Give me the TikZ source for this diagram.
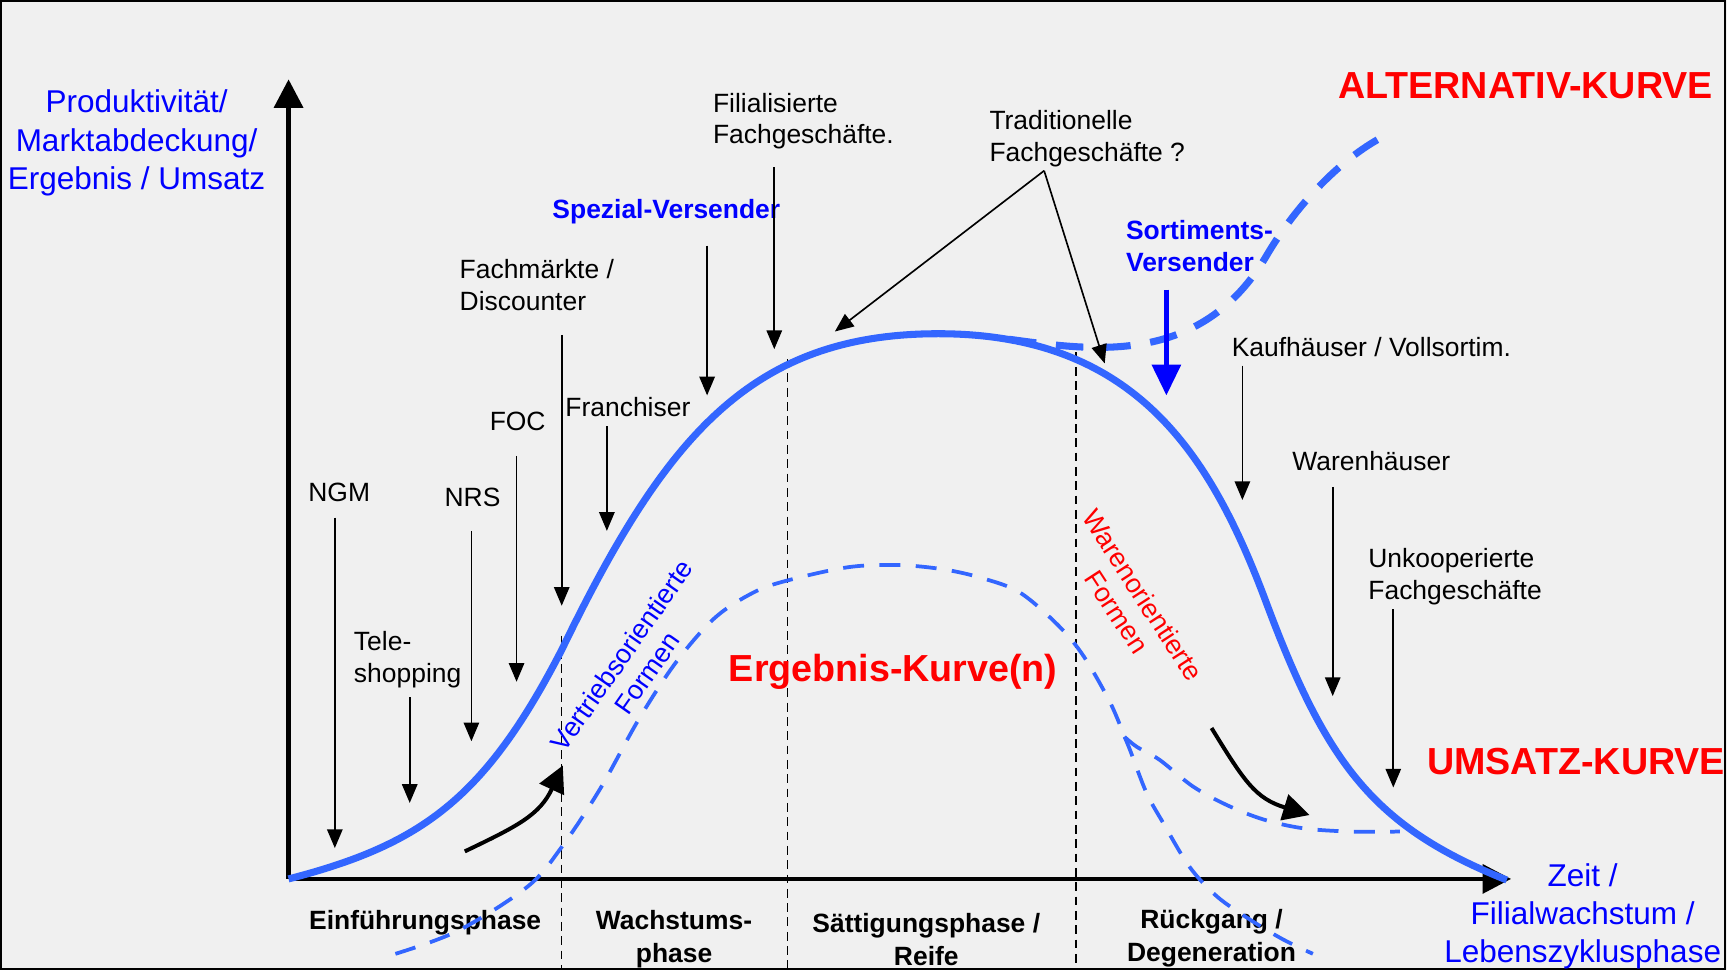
\documentclass[tikz,border=0pt]{standalone}
\usepackage{fontspec}
\setmainfont{Liberation Sans}
\usetikzlibrary{arrows.meta}

\definecolor{paper}{HTML}{F0F0F0}
\definecolor{curveblue}{HTML}{3366FF}
\definecolor{labelblue}{HTML}{0000FF}
\definecolor{labelred}{HTML}{FF0000}

\begin{document}
\begin{tikzpicture}[x=0.5pt, y=-0.5pt,
  lbl/.style={font=\fontsize{12}{14.5}\selectfont, inner sep=0pt, align=left},
  bluebold/.style={lbl, font=\fontsize{12}{14.5}\selectfont\bfseries, text=labelblue},
  phase/.style={font=\fontsize{12}{15}\selectfont\bfseries, inner sep=0pt, align=center},
  axislabel/.style={font=\fontsize{14.3}{17.4}\selectfont, text=labelblue, inner sep=0pt, align=center},
  bigred/.style={font=\fontsize{17.1}{20}\selectfont\bfseries, text=labelred, inner sep=0pt},
  slanted/.style={font=\fontsize{12.2}{14}\selectfont, inner sep=0pt, align=center},
  axis/.style={line width=2.2pt, -{Triangle[width=13pt,length=13pt]}},
  ptr/.style={line width=0.75pt, -{Triangle[width=7pt,length=8.5pt]}},
  bigptr/.style={line width=2pt, labelblue, -{Triangle[width=13pt,length=14pt]}},
  swing/.style={line width=1.8pt, -{Triangle[width=12pt,length=12pt]}},
  phasesep/.style={line width=0.7pt, dash pattern=on 4pt off 2.5pt},
  umsatz/.style={line width=3.2pt, curveblue},
  alternativ/.style={line width=3.2pt, curveblue, dash pattern=on 12.5pt off 9pt},
  ergebnis/.style={line width=1.7pt, curveblue, dash pattern=on 9.5pt off 7pt}
]

% page and frame
\useasboundingbox (0,0) rectangle (1568,881);
\fill[paper] (0,0) rectangle (1568,881);
\draw[line width=1pt] (1,1) rectangle (1566,880);

% axes
\coordinate (origin) at (262,798);
\coordinate (ytip) at (262,72);
\coordinate (xtip) at (1372,798);
\draw[axis] (origin) -- (ytip);
\draw[axis] (origin) -- (xtip);

\node[axislabel] (ylab) at (124,130) {Produktivität/\\Marktabdeckung/\\Ergebnis / Umsatz};
\node[axislabel] (xlab) at (1437,832) {Zeit /\\Filialwachstum /\\Lebenszyklusphase};

% phase separators
\coordinate (sepA1) at (510,577); \coordinate (sepA2) at (510,881);
\coordinate (sepB1) at (715,326); \coordinate (sepB2) at (715,881);
\coordinate (sepC1) at (977,320); \coordinate (sepC2) at (977,881);
\draw[phasesep] (sepA1) -- (sepA2);
\draw[phasesep] (sepB1) -- (sepB2);
\draw[phasesep] (sepC1) -- (sepC2);

% phase names
\node[phase] (ph1) at (386,838) {Einführungsphase};
\node[phase] (ph2) at (612,853) {Wachstums-\\phase};
\node[phase] (ph3) at (841,853) {Sättigungsphase /\\Reife};
\node[phase] (ph4) at (1100,852) {Rückgang /\\Degeneration};

% curve labels
\node[bigred] (altlab) at (1385,78) {ALTERNATIV-KURVE};
\node[bigred] (umslab) at (1431,691) {UMSATZ-KURVE};
\node[bigred] (erglab) at (811,610) {Ergebnis-Kurve(n)};
\node[slanted, text=labelblue, rotate=55] (vertrieb) at (576,603) {Vertriebsorientierte\\Formen};
\node[slanted, text=labelred, rotate=-57] (waren) at (1026,548) {Warenorientierte\\Formen};

% sales curve
\coordinate (uStart) at (262,798);
\coordinate (uRise) at (510,590);
\coordinate (uPeak) at (852,303);
\coordinate (uFall) at (1150,548);
\coordinate (uEnd) at (1368,799);
\draw[umsatz] (uStart) .. controls (382,767) and (440,726) .. (uRise)
  .. controls (604,396) and (682,303) .. (uPeak)
  .. controls (1032,303) and (1100,414) .. (uFall)
  .. controls (1205,695) and (1248,751) .. (uEnd);

% alternative curve
\coordinate (aStart) at (916,308);
\coordinate (aMid) at (1150,232);
\coordinate (aEnd) at (1264,120);
\draw[alternativ] (aStart) .. controls (990,318) and (1090,334) .. (aMid)
  .. controls (1180,181) and (1224,138) .. (aEnd);

% result curve and its two endings
\coordinate (kink) at (1021,669);
\draw[ergebnis] plot[smooth, tension=0.55] coordinates {
  (359,866) (416,845) (479,805) (510,769) (545,716) (580,653) (614,601)
  (649,561) (684,538) (715,527) (770,515) (815,513) (857,517) (892,525)
  (926,538) (961,568) (984,596) (1008,638) (1021,669)};
\draw[ergebnis] plot[smooth, tension=0.55] coordinates {
  (1021,669) (1026,681) (1041,720) (1056,747) (1080,787) (1105,814)
  (1135,835) (1165,853) (1192,866)};
\draw[ergebnis] plot[smooth, tension=0.55] coordinates {
  (1021,669) (1032,678) (1053,690) (1083,714) (1114,731) (1147,744)
  (1183,752) (1226,755) (1271,755)};

% swinging arrows
\coordinate (swingLa) at (422,773);
\coordinate (swingLb) at (511,695);
\draw[swing] (swingLa) .. controls (470,750) and (490,740) .. (swingLb);
\coordinate (swingRa) at (1100,661);
\coordinate (swingRb) at (1189,740);
\draw[swing] (swingRa) .. controls (1130,710) and (1140,725) .. (swingRb);

% retail formats along the curve
\node[lbl, anchor=center] (ngm) at (308,447) {NGM};
\coordinate (ngmA) at (304,470); \coordinate (ngmB) at (304,770);
\draw[ptr] (ngmA) -- (ngmB);

\node[lbl, anchor=west] (tele) at (321,599) {Tele-\\shopping};
\coordinate (teleA) at (372,633); \coordinate (teleB) at (372,729);
\draw[ptr] (teleA) -- (teleB);

\node[lbl, anchor=center] (nrs) at (429,452) {NRS};
\coordinate (nrsA) at (428,482); \coordinate (nrsB) at (428,673);
\draw[ptr] (nrsA) -- (nrsB);

\node[lbl, anchor=center] (foc) at (470,383) {FOC};
\coordinate (focA) at (469,414); \coordinate (focB) at (469,619);
\draw[ptr] (focA) -- (focB);

\node[lbl, anchor=west] (fachm) at (417,259) {Fachmärkte /\\Discounter};
\coordinate (fachmA) at (510,304); \coordinate (fachmB) at (510,550);
\draw[ptr] (fachmA) -- (fachmB);

\node[lbl, anchor=west] (franch) at (513,370) {Franchiser};
\coordinate (franchA) at (551,387); \coordinate (franchB) at (551,482);
\draw[ptr] (franchA) -- (franchB);

\node[bluebold, anchor=center] (spezial) at (605,192) {Spezial-Versender};
\coordinate (spezialA) at (642,223); \coordinate (spezialB) at (642,359);
\draw[ptr] (spezialA) -- (spezialB);

\node[lbl, anchor=west] (filial) at (647,110) {Filialisierte\\Fachgeschäfte.};
\coordinate (filialA) at (703,152); \coordinate (filialB) at (703,317);
\draw[ptr] (filialA) -- (filialB);

\node[lbl, anchor=west] (trad) at (898,126) {Traditionelle\\Fachgeschäfte ?};
\coordinate (tradA) at (948,155);
\coordinate (tradL) at (758,301); \coordinate (tradR) at (1003,330);
\draw[ptr] (tradA) -- (tradL);
\draw[ptr] (tradA) -- (tradR);

\node[bluebold, anchor=west] (sortiment) at (1022,223) {Sortiments-\\Versender};
\coordinate (sortA) at (1059,263); \coordinate (sortB) at (1059,359);
\draw[bigptr] (sortA) -- (sortB);

\node[lbl, anchor=west] (kauf) at (1118,315) {Kaufhäuser / Vollsortim.};
\coordinate (kaufA) at (1128,332); \coordinate (kaufB) at (1128,454);
\draw[ptr] (kaufA) -- (kaufB);

\node[lbl, anchor=west] (waren2) at (1173,419) {Warenhäuser};
\coordinate (warenA) at (1210,442); \coordinate (warenB) at (1210,632);
\draw[ptr] (warenA) -- (warenB);

\node[lbl, anchor=west] (unkoop) at (1242,524) {Unkooperierte\\Fachgeschäfte};
\coordinate (unkoopA) at (1265,553); \coordinate (unkoopB) at (1265,715);
\draw[ptr] (unkoopA) -- (unkoopB);

\end{tikzpicture}
\end{document}
